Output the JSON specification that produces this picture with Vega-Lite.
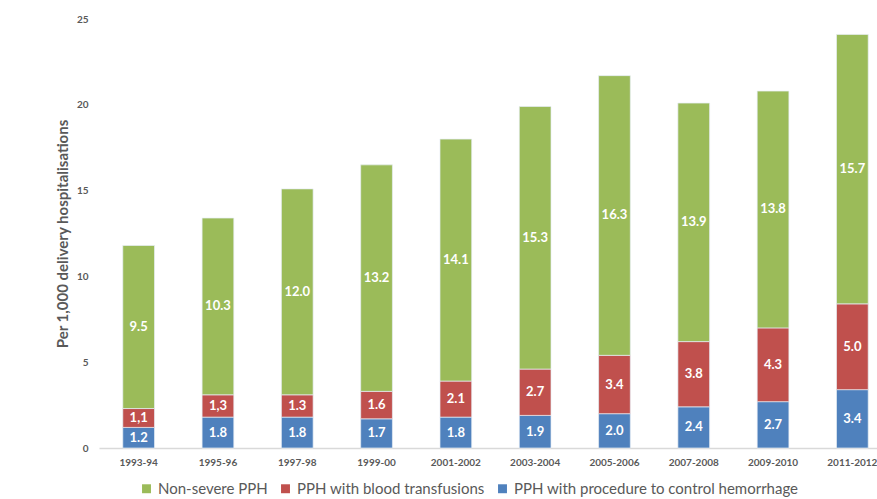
{
  "$schema": "https://vega.github.io/schema/vega-lite/v6.json",
  "autosize": "none",
  "width": 778,
  "height": 429,
  "padding": {"left": 99, "top": 19, "right": 0, "bottom": 51},
  "background": "white",
  "config": {"view": {"stroke": null}, "font": "Lato"},
  "data": {"values": [
    {"year": "1993-94", "series": "PPH with procedure to control hemorrhage", "value": 1.2, "label": "1.2"},
    {"year": "1993-94", "series": "PPH with blood transfusions", "value": 1.1, "label": "1,1"},
    {"year": "1993-94", "series": "Non-severe PPH", "value": 9.5, "label": "9.5"},
    {"year": "1995-96", "series": "PPH with procedure to control hemorrhage", "value": 1.8, "label": "1.8"},
    {"year": "1995-96", "series": "PPH with blood transfusions", "value": 1.3, "label": "1,3"},
    {"year": "1995-96", "series": "Non-severe PPH", "value": 10.3, "label": "10.3"},
    {"year": "1997-98", "series": "PPH with procedure to control hemorrhage", "value": 1.8, "label": "1.8"},
    {"year": "1997-98", "series": "PPH with blood transfusions", "value": 1.3, "label": "1.3"},
    {"year": "1997-98", "series": "Non-severe PPH", "value": 12.0, "label": "12.0"},
    {"year": "1999-00", "series": "PPH with procedure to control hemorrhage", "value": 1.7, "label": "1.7"},
    {"year": "1999-00", "series": "PPH with blood transfusions", "value": 1.6, "label": "1.6"},
    {"year": "1999-00", "series": "Non-severe PPH", "value": 13.2, "label": "13.2"},
    {"year": "2001-2002", "series": "PPH with procedure to control hemorrhage", "value": 1.8, "label": "1.8"},
    {"year": "2001-2002", "series": "PPH with blood transfusions", "value": 2.1, "label": "2.1"},
    {"year": "2001-2002", "series": "Non-severe PPH", "value": 14.1, "label": "14.1"},
    {"year": "2003-2004", "series": "PPH with procedure to control hemorrhage", "value": 1.9, "label": "1.9"},
    {"year": "2003-2004", "series": "PPH with blood transfusions", "value": 2.7, "label": "2.7"},
    {"year": "2003-2004", "series": "Non-severe PPH", "value": 15.3, "label": "15.3"},
    {"year": "2005-2006", "series": "PPH with procedure to control hemorrhage", "value": 2.0, "label": "2.0"},
    {"year": "2005-2006", "series": "PPH with blood transfusions", "value": 3.4, "label": "3.4"},
    {"year": "2005-2006", "series": "Non-severe PPH", "value": 16.3, "label": "16.3"},
    {"year": "2007-2008", "series": "PPH with procedure to control hemorrhage", "value": 2.4, "label": "2.4"},
    {"year": "2007-2008", "series": "PPH with blood transfusions", "value": 3.8, "label": "3.8"},
    {"year": "2007-2008", "series": "Non-severe PPH", "value": 13.9, "label": "13.9"},
    {"year": "2009-2010", "series": "PPH with procedure to control hemorrhage", "value": 2.7, "label": "2.7"},
    {"year": "2009-2010", "series": "PPH with blood transfusions", "value": 4.3, "label": "4.3"},
    {"year": "2009-2010", "series": "Non-severe PPH", "value": 13.8, "label": "13.8"},
    {"year": "2011-2012", "series": "PPH with procedure to control hemorrhage", "value": 3.4, "label": "3.4"},
    {"year": "2011-2012", "series": "PPH with blood transfusions", "value": 5.0, "label": "5.0"},
    {"year": "2011-2012", "series": "Non-severe PPH", "value": 15.7, "label": "15.7"}
  ]},
  "transform": [
    {"stack": "value", "groupby": ["year"], "sort": [{"field": "series", "order": "descending"}], "as": ["y0", "y1"]},
    {"calculate": "(datum.y0 + datum.y1) / 2", "as": "ymid"}
  ],
  "encoding": {
    "x": {
      "field": "year", "type": "nominal", "sort": null,
      "scale": {"range": [0, 793], "paddingInner": 0.6, "paddingOuter": 0.3},
      "axis": {"title": null, "labelAngle": 0, "ticks": false, "domainColor": "#D9D9D9", "domainWidth": 1.5,
               "labelFont": "Lato", "labelFontSize": 10, "labelFontWeight": "bold", "labelColor": "#595959", "labelPadding": 9}
    }
  },
  "layer": [
    {
      "mark": {"type": "bar", "stroke": "#E6EEF5", "strokeWidth": 0.7},
      "encoding": {
        "y": {"field": "y0", "type": "quantitative",
              "scale": {"domain": [0, 25], "nice": false},
              "axis": {"title": "Per 1,000 delivery hospitalisations", "values": [0, 5, 10, 15, 20, 25], "grid": false, "domain": false, "ticks": false,
                       "labelFont": "Lato", "labelFontSize": 10, "labelFontWeight": "bold", "labelColor": "#595959", "labelPadding": 11,
                       "titleFont": "Lato", "titleFontSize": 15, "titleFontWeight": "bold", "titleColor": "#595959", "titlePadding": 6}},
        "y2": {"field": "y1"},
        "color": {"field": "series", "type": "nominal",
                  "scale": {"domain": ["Non-severe PPH", "PPH with blood transfusions", "PPH with procedure to control hemorrhage"],
                            "range": ["#9BBB59", "#C0504D", "#4F81BD"]},
                  "legend": {"title": null, "orient": "none", "legendX": 40, "legendY": 462, "direction": "horizontal",
                             "symbolType": "square", "symbolSize": 80, "symbolStrokeWidth": 0, "symbolOpacity": 1, "labelLimit": 0,
                             "labelFont": "Lato", "labelFontSize": 15, "labelColor": "#595959", "columnPadding": 10, "labelOffset": 4}}
      }
    },
    {
      "mark": {"type": "text", "color": "white", "fontWeight": "bold", "fontSize": 13, "font": "Lato", "baseline": "middle"},
      "encoding": {
        "y": {"field": "ymid", "type": "quantitative"},
        "text": {"field": "label", "type": "nominal"}
      }
    }
  ]
}
